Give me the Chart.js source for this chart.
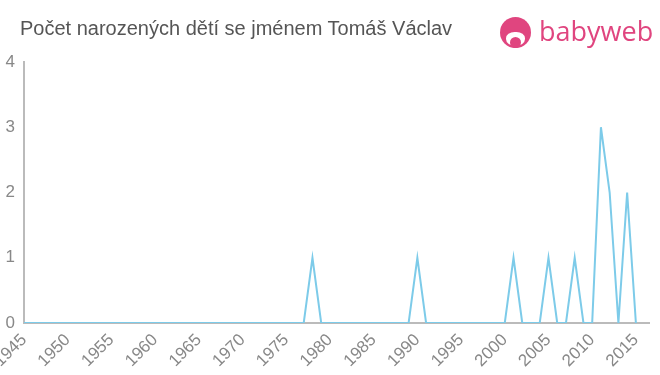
<!DOCTYPE html>
<html>
<head>
<meta charset="utf-8">
<script src="https://cdn.jsdelivr.net/npm/chart.js@4"></script>
<style>
  html, body { margin:0; padding:0; background:#fff; }
  #wrap { position:relative; width:660px; height:375px; overflow:hidden; }
  #title { position:absolute; left:20px; top:17px; font-family:"Liberation Sans", Arial, sans-serif; font-size:20px; color:#555; white-space:nowrap; }
  #logo { position:absolute; left:500px; top:15px; height:34px; display:flex; align-items:center; }
  #logo .icon { position:relative; width:31px; height:31px; }
  #logo .icon .head { position:absolute; left:0; top:0; width:31px; height:31px; border-radius:50%; background:#e0457f; }
  #logo .icon .face { position:absolute; left:6px; top:15px; width:19px; height:14px; border-radius:45% 45% 50% 50%; background:#fff; }
  #logo .icon .dot { position:absolute; left:10px; top:20px; width:11px; height:11px; border-radius:50%; background:#e0457f; }
  #logo .txt { margin-left:8px; font-family:"Open Sans", "Liberation Sans", sans-serif; font-size:27px; color:#e0457f; line-height:1; margin-top:-3px; }
  canvas { position:absolute; left:0; top:0; }
</style>
</head>
<body>
<div id="wrap">
  <canvas id="c" width="660" height="375"></canvas>
  <div id="title">Počet narozených dětí se jménem Tomáš Václav</div>
  <div id="logo"><div class="icon"><div class="head"></div><div class="face"></div><div class="dot"></div></div><div class="txt">babyweb</div></div>
</div>
<script>
const titleText = "Počet narozených dětí se jménem Tomáš Václav";
const years = [1945,1946,1947,1948,1949,1950,1951,1952,1953,1954,1955,1956,1957,1958,1959,1960,1961,1962,1963,1964,1965,1966,1967,1968,1969,1970,1971,1972,1973,1974,1975,1976,1977,1978,1979,1980,1981,1982,1983,1984,1985,1986,1987,1988,1989,1990,1991,1992,1993,1994,1995,1996,1997,1998,1999,2000,2001,2002,2003,2004,2005,2006,2007,2008,2009,2010,2011,2012,2013,2014,2015];
const births = [0,0,0,0,0,0,0,0,0,0,0,0,0,0,0,0,0,0,0,0,0,0,0,0,0,0,0,0,0,0,0,0,0,1,0,0,0,0,0,0,0,0,0,0,0,1,0,0,0,0,0,0,0,0,0,0,1,0,0,0,1,0,0,1,0,0,3,2,0,2,0];
const xTicks = [1945,1950,1955,1960,1965,1970,1975,1980,1985,1990,1995,2000,2005,2010,2015];
const yTicks = [0,1,2,3,4];

const points = years.map((y,i)=>({x:y, y:births[i]}));

new Chart(document.getElementById('c'), {
  type: 'line',
  data: { datasets: [{ data: points, borderColor:'#7dcbe9', borderWidth:2, pointRadius:0, tension:0, fill:false }] },
  options: {
    responsive:false, animation:false,
    layout: { padding: { top:62, right:11, left:0, bottom:0 } },
    plugins: { legend:{display:false}, title:{display:false}, tooltip:{enabled:false} },
    scales: {
      x: {
        type:'linear', min:1945, max:2016.5,
        grid:{ display:false, drawTicks:true, tickLength:5, tickColor:'#bbb' },
        border:{ color:'#bbb', width:2 },
        afterBuildTicks: (s)=>{ s.ticks = xTicks.map(v=>({value:v})); },
        afterFit: (s)=>{ s.height = 52; s.paddingLeft = 0; s.paddingRight = 0; },
        ticks:{ color:'#888', font:{family:'"Liberation Sans", Arial, sans-serif', size:17}, maxRotation:45, minRotation:45, autoSkip:false, padding:2,
          callback:(v)=>String(v) }
      },
      y: {
        min:0, max:4,
        grid:{ display:false, drawTicks:true, tickLength:5, tickColor:'#bbb' },
        border:{ color:'#bbb', width:2 },
        afterBuildTicks: (s)=>{ s.ticks = yTicks.map(v=>({value:v})); },
        afterFit: (s)=>{ s.width = 24; s.paddingTop = 0; s.paddingBottom = 0; },
        ticks:{ color:'#888', font:{family:'"Liberation Sans", Arial, sans-serif', size:17}, padding:4 }
      }
    }
  }
});
</script>
</body>
</html>
